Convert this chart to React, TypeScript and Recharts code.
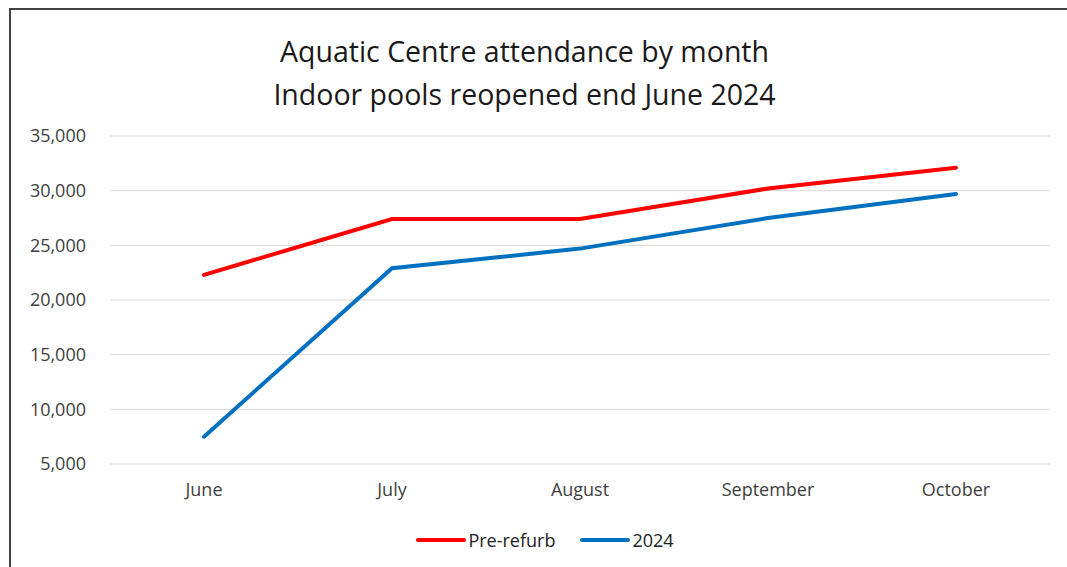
import React from "react";
import { LineChart, Line, XAxis, YAxis, CartesianGrid, Legend } from "recharts";

const months = ["June", "July", "August", "September", "October"];
const preRefurb = [22300, 27400, 27400, 30200, 32100];
const year2024 = [7500, 22900, 24700, 27500, 29700];
const yTicks = [5000, 10000, 15000, 20000, 25000, 30000, 35000];

const seriesInfo = [
  { key: "preRefurb", label: "Pre-refurb", color: "#ff0000" },
  { key: "year2024", label: "2024", color: "#0070c0" },
];

const data = months.map((m, i) => ({
  month: m,
  preRefurb: preRefurb[i],
  year2024: year2024[i],
}));

const FONT = "'Open Sans', sans-serif";

function LegendContent() {
  return (
    <div style={{ display: "flex", justifyContent: "center", gap: 25, fontFamily: FONT, fontSize: 18, color: "#222", lineHeight: "24px" }}>
      {seriesInfo.map((s) => (
        <div key={s.key} style={{ display: "flex", alignItems: "center" }}>
          <svg width={50} height={10}>
            <line x1={2} y1={5} x2={48} y2={5} stroke={s.color} strokeWidth={4} strokeLinecap="round" />
          </svg>
          <span style={{ marginLeft: 2 }}>{s.label}</span>
        </div>
      ))}
    </div>
  );
}

export default function App() {
  return (
    <div style={{ position: "absolute", left: 0, top: 0, width: 1067, height: 567, background: "#fff", overflow: "hidden" }}>
      <div
        style={{
          position: "absolute",
          left: 9,
          top: 8,
          width: 1080,
          height: 600,
          border: "2px solid #444",
          boxSizing: "border-box",
        }}
      />
      <div
        style={{
          position: "absolute",
          left: 0,
          width: 1049,
          top: 30,
          textAlign: "center",
          fontFamily: FONT,
          fontSize: 28.5,
          lineHeight: "43px",
          color: "#1a1a1a",
        }}
      >
        <div>Aquatic Centre attendance by month</div>
        <div>Indoor pools reopened end June 2024</div>
      </div>
      <div style={{ position: "absolute", left: 0, top: 0 }}>
        <LineChart width={1067} height={567} data={data} margin={{ top: 136, right: 17, left: 0, bottom: 39 }}>
          <CartesianGrid horizontal vertical={false} stroke="#d9d9d9" />
          <XAxis
            dataKey="month"
            axisLine={false}
            tickLine={false}
            tickMargin={13}
            padding={{ left: 94, right: 94 }}
            tick={{ fontFamily: FONT, fontSize: 18, fill: "#404040" }}
            height={40}
          />
          <YAxis
            width={110}
            domain={[5000, 35000]}
            ticks={yTicks}
            axisLine={false}
            tickLine={false}
            tickMargin={18}
            tickFormatter={(v: number) => v.toLocaleString("en-US")}
            tick={{ fontFamily: FONT, fontSize: 18, fill: "#404040" }}
          />
          <Legend
            verticalAlign="bottom"
            content={<LegendContent />}
            wrapperStyle={{ top: 528, left: 0, width: 1090 }}
          />
          {seriesInfo.map((s) => (
            <Line
              key={s.key}
              dataKey={s.key}
              name={s.label}
              type="linear"
              stroke={s.color}
              strokeWidth={4}
              strokeLinecap="round"
              dot={false}
              activeDot={false}
              isAnimationActive={false}
            />
          ))}
        </LineChart>
      </div>
    </div>
  );
}
